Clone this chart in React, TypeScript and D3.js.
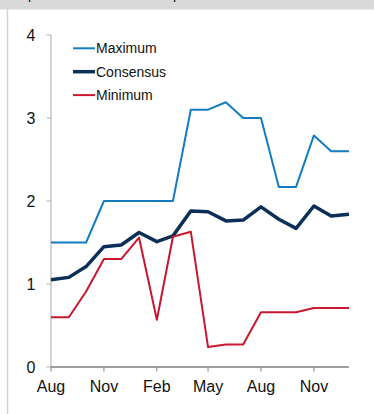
import React from 'react'
import * as d3 from 'd3'

// monthly survey dates, Aug 2022 .. Jan 2024
const months = [
  '2022-08', '2022-09', '2022-10', '2022-11', '2022-12', '2023-01',
  '2023-02', '2023-03', '2023-04', '2023-05', '2023-06', '2023-07',
  '2023-08', '2023-09', '2023-10', '2023-11', '2023-12', '2024-01',
]
const maximum = [1.5, 1.5, 1.5, 2.0, 2.0, 2.0, 2.0, 2.0, 3.1, 3.1, 3.19, 3.0, 3.0, 2.17, 2.17, 2.79, 2.6, 2.6]
const consensus = [1.05, 1.08, 1.21, 1.45, 1.47, 1.62, 1.51, 1.58, 1.88, 1.87, 1.76, 1.77, 1.93, 1.78, 1.67, 1.94, 1.82, 1.84]
const minimum = [0.6, 0.6, 0.91, 1.3, 1.3, 1.56, 0.57, 1.57, 1.63, 0.24, 0.27, 0.27, 0.66, 0.66, 0.66, 0.71, 0.71, 0.71]
const yTicks = [0, 1, 2, 3, 4]
const xTickMonths = ['2022-08', '2022-11', '2023-02', '2023-05', '2023-08', '2023-11']

const W = 374
const H = 414
const font = '"Liberation Sans", Arial, sans-serif'

const parse = d3.timeParse('%Y-%m')

const seriesList = [
  { name: 'Maximum', values: maximum, color: '#137cc2', width: 2 },
  { name: 'Consensus', values: consensus, color: '#0b2f57', width: 3.5 },
  { name: 'Minimum', values: minimum, color: '#c8172f', width: 2 },
]

export default function App() {
  const dates = months.map(m => parse(m) as Date)
  const x = d3.scaleTime().domain([dates[0], dates[dates.length - 1]]).range([51, 349])
  const y = d3.scaleLinear().domain([0, 4]).range([367, 35])

  const line = d3.line<number>()
    .x((_, i) => x(dates[i]))
    .y(d => y(d))

  return (
    <svg width={W} height={H} style={{ position: 'absolute', left: 0, top: 0, background: '#fff' }}
      fontFamily={font}>
      {/* frame bits */}
      <rect x={0} y={0} width={W} height={9} fill="#d9d9d9" />
      <line x1={0} x2={W} y1={9.5} y2={9.5} stroke="#ececec" />
      <line x1={7.5} x2={7.5} y1={9} y2={H} stroke="#d4d4d4" strokeWidth={1.5} />
      <text y={-1} fontSize={14} fill="#111">
        <tspan x={28}>p</tspan>
        <tspan x={173}>p</tspan>
      </text>

      {/* y axis */}
      <line x1={51} x2={51} y1={y(4)} y2={y(0)} stroke="#c6c6c6" strokeWidth={1.5} />
      {yTicks.map(t => (
        <g key={t}>
          <line x1={46.5} x2={51} y1={y(t)} y2={y(t)} stroke="#b0b0b0" strokeWidth={1} />
          <text x={35.5} y={y(t)} dy="0.36em" textAnchor="end" fontSize={16} fill="#111">{t}</text>
        </g>
      ))}

      {/* x axis */}
      <line x1={51} x2={349} y1={y(0)} y2={y(0)} stroke="#7f7f7f" strokeWidth={1.5} />
      {xTickMonths.map(m => {
        const d = parse(m) as Date
        return (
          <g key={m}>
            <line x1={x(d)} x2={x(d)} y1={y(0)} y2={y(0) + 4.5} stroke="#7f7f7f" strokeWidth={1} />
            <text x={x(d)} y={392} textAnchor="middle" fontSize={16} fill="#111">
              {d3.timeFormat('%b')(d)}
            </text>
          </g>
        )
      })}

      {/* series */}
      {seriesList.map(s => (
        <path key={s.name} d={line(s.values) || ''} fill="none" stroke={s.color}
          strokeWidth={s.width} strokeLinejoin="round" />
      ))}

      {/* legend */}
      {seriesList.map((s, i) => (
        <g key={s.name} transform={`translate(73,${48.3 + i * 23.4})`}>
          <line x1={0} x2={22} y1={0} y2={0} stroke={s.color} strokeWidth={s.width} />
          <text x={23} y={0} dy="0.35em" fontSize={14} fill="#111">{s.name}</text>
        </g>
      ))}
    </svg>
  )
}
